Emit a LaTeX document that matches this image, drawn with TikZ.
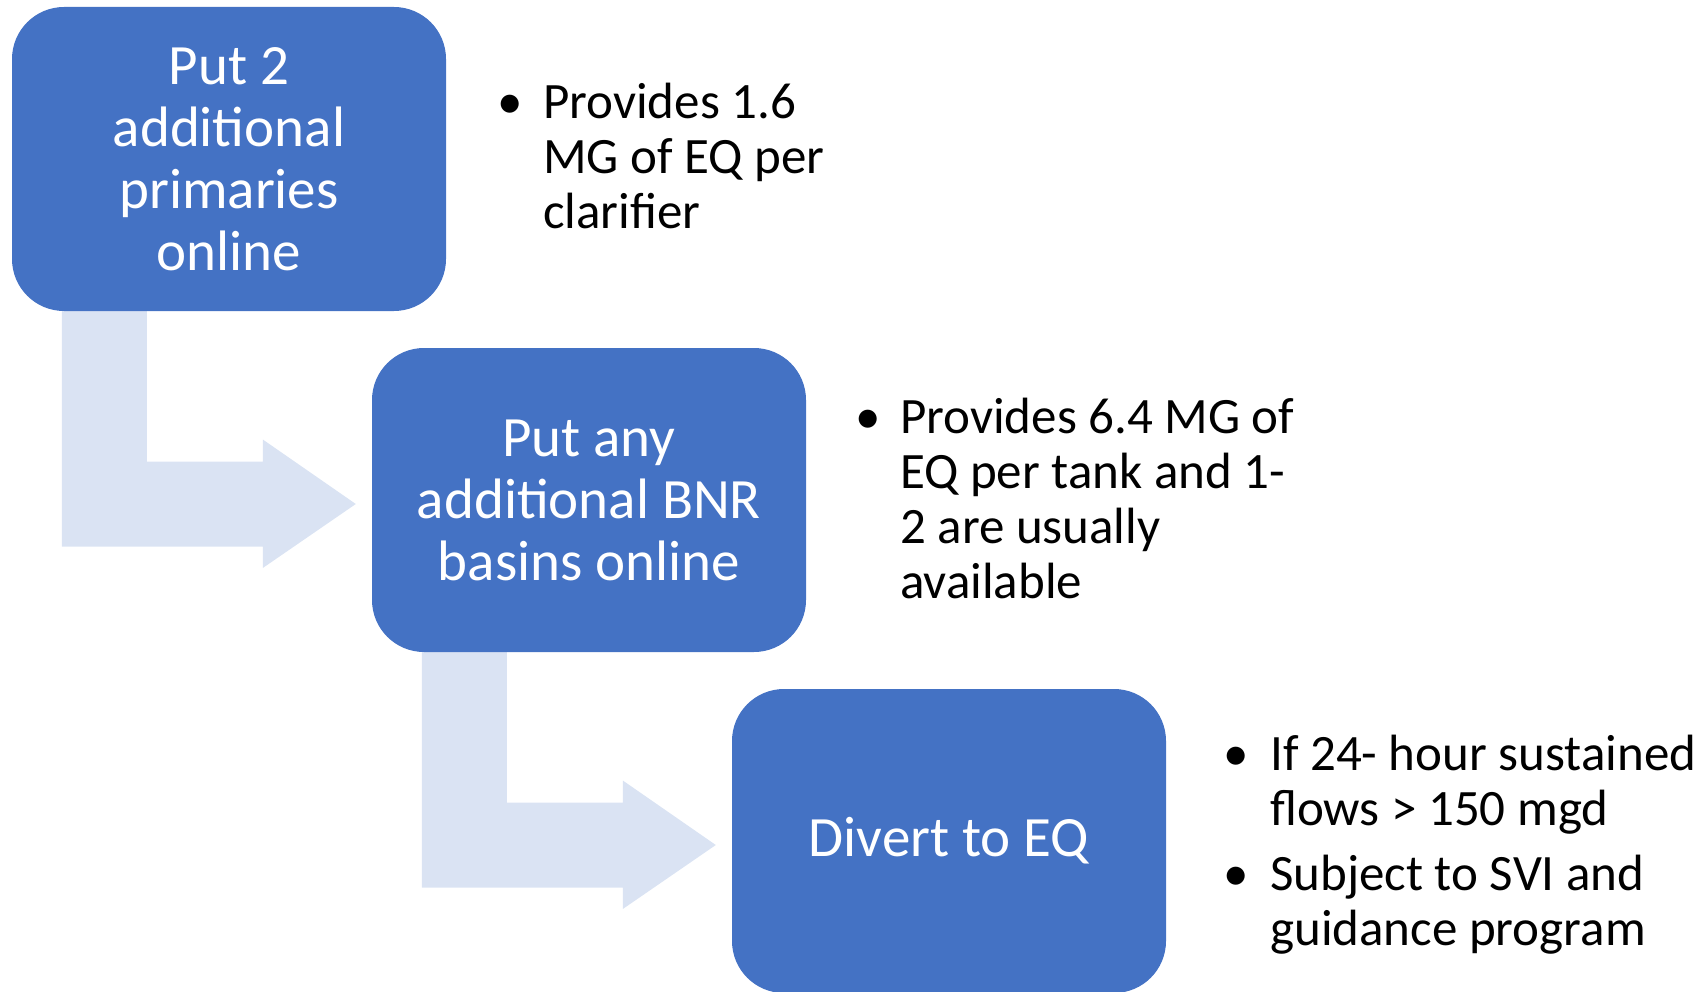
\documentclass[tikz,border=0pt]{standalone}
\usepackage{fontspec}
\setmainfont{Carlito}
\usetikzlibrary{calc,backgrounds}
\definecolor{boxblue}{HTML}{4472C4}
\definecolor{arrowblue}{HTML}{DAE3F3}
\tikzset{
  stepbox/.style={fill=boxblue, draw=none, rounded corners=52pt, minimum width=434pt, minimum height=304pt, inner sep=0pt, text=white, align=center, font=\fontsize{57}{62}\selectfont},
  bentarrow/.style={fill=arrowblue, draw=none},
  bulline/.style={anchor=base west, inner sep=0pt, font=\fontsize{51}{55}\selectfont, text=black},
  bulmark/.style={anchor=base, inner sep=0pt, font=\fontsize{51}{55}\selectfont, text=black}
}
\begin{document}
\begin{tikzpicture}[x=1pt,y=-1pt]
\useasboundingbox (0,0) rectangle (1705,992);
\begin{scope}
\clip (0,0) rectangle (1705,992);
\node[stepbox] (b1) at (229,159) {Put 2\\additional\\primaries\\online};
\node[stepbox] (b2) at (589,500) {Put any\\additional BNR\\basins online};
\node[stepbox] (b3) at (949,841) {Divert to EQ};
\coordinate (t1) at ($(b2.west)+(-16,4)$);
\coordinate (s1) at ($(b1.south west)+(50,-1)$);
\coordinate (t2) at ($(b3.west)+(-16,4)$);
\coordinate (s2) at ($(b2.south west)+(50,-1)$);
\begin{scope}[on background layer]
\fill[bentarrow] (s1) -- ++(85,0) |- ($(t1)+(-93,-42.5)$) -- ++(0,-22) -- (t1) -- ($(t1)+(-93,64)$) -- ++(0,-21.5) -| (s1) -- cycle;
\fill[bentarrow] (s2) -- ++(85,0) |- ($(t2)+(-93,-42.5)$) -- ++(0,-22) -- (t2) -- ($(t2)+(-93,64)$) -- ++(0,-21.5) -| (s2) -- cycle;
\end{scope}
\end{scope}
% bullets
\node[bulmark] (m1) at (510,119) {•};
\node[bulline] (p1a) at (543,119) {Provides 1.6};
\node[bulline] (p1b) at (543,174) {MG of EQ per};
\node[bulline] (p1c) at (543,229) {clarifier};
\node[bulmark] (m2) at (868,433) {•};
\node[bulline] (p2a) at (900,433) {Provides 6.4 MG of};
\node[bulline] (p2b) at (900,488) {EQ per tank and 1-};
\node[bulline] (p2c) at (900,543) {2 are usually};
\node[bulline] (p2d) at (900,598) {available};
\node[bulmark] (m3) at (1236,770) {•};
\node[bulline] (p3a) at (1270,770) {If 24- hour sustained};
\node[bulline] (p3b) at (1270,825) {flows > 150 mgd};
\node[bulmark] (m4) at (1236,890) {•};
\node[bulline] (p4a) at (1270,890) {Subject to SVI and};
\node[bulline] (p4b) at (1270,945) {guidance program};
\end{tikzpicture}
\end{document}
